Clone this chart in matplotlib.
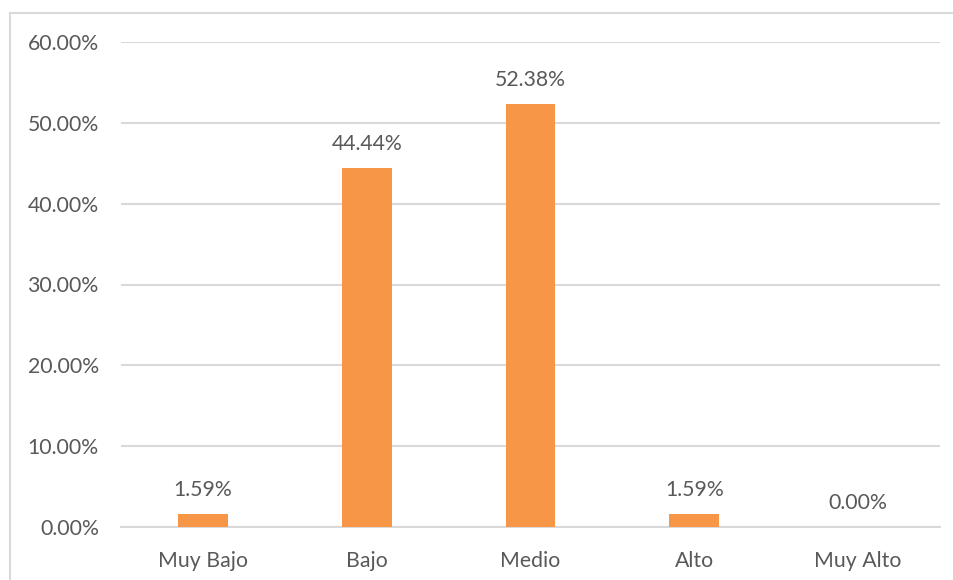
import matplotlib
matplotlib.use("Agg")
import matplotlib.pyplot as plt
from matplotlib.ticker import FuncFormatter
from matplotlib.lines import Line2D

categories = ["Muy Bajo", "Bajo", "Medio", "Alto", "Muy Alto"]
values = [1.59, 44.44, 52.38, 1.59, 0.00]
yticks = [0, 10, 20, 30, 40, 50, 60]

plt.rcParams["font.family"] = ["Lato", "DejaVu Sans"]
text_color = "#595959"
grid_color = "#D9D9D9"
bar_color = "#F79646"

fig = plt.figure(figsize=(9.54, 5.8), dpi=100)
ax = fig.add_axes([121 / 954, 1 - 527 / 580, 819 / 954, 485 / 580])

x = range(len(categories))
bars = ax.bar(x, values, width=0.305, color=bar_color, zorder=3)

for b, v in zip(bars, values):
    ax.annotate(f"{v:.2f}%", (b.get_x() + b.get_width() / 2, v),
                xytext=(0, 10), textcoords="offset points",
                ha="center", va="bottom", fontsize=15.3, color=text_color)

ax.set_xlim(-0.5, len(categories) - 0.5)
ax.set_ylim(0, 60)
ax.set_yticks(yticks)
ax.yaxis.set_major_formatter(FuncFormatter(lambda v, p: f"{v:.2f}%"))
ax.set_xticks(list(x))
ax.set_xticklabels(categories)
ax.tick_params(axis="both", length=0, labelsize=15.3, labelcolor=text_color)
ax.tick_params(axis="y", pad=16)
ax.tick_params(axis="x", pad=17)
ax.grid(axis="y", color=grid_color, linewidth=1.5, zorder=0)
for s in ["top", "right", "left"]:
    ax.spines[s].set_visible(False)
ax.spines["bottom"].set_color(grid_color)
ax.spines["bottom"].set_linewidth(1.5)

# chart frame
fig.add_artist(Line2D([10 / 954, 10 / 954], [0, 1 - 13 / 580],
                      transform=fig.transFigure, color=grid_color, linewidth=1.5))
fig.add_artist(Line2D([10 / 954, 1], [1 - 13 / 580, 1 - 13 / 580],
                      transform=fig.transFigure, color=grid_color, linewidth=1.5))

fig.savefig("out.png", dpi=100)
